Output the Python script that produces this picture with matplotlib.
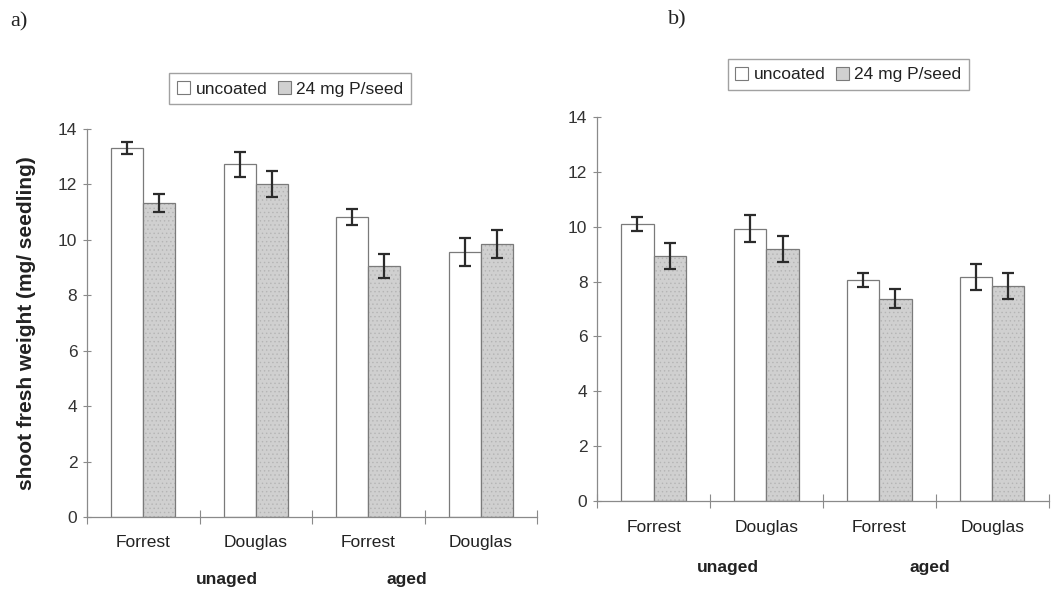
import matplotlib
matplotlib.use('Agg')
import matplotlib.pyplot as plt
from matplotlib.patches import Patch
import numpy as np

# ── Data ──────────────────────────────────────────────────────────────────────
cultivars = ['Forrest', 'Douglas', 'Forrest', 'Douglas']
ages = ['unaged', 'aged']
series = ['uncoated', '24 mg P/seed']

a_uncoated = [13.3, 12.72, 10.82, 9.57]
a_uncoated_err = [0.22, 0.45, 0.29, 0.50]
a_coated = [11.32, 12.0, 9.05, 9.85]
a_coated_err = [0.33, 0.47, 0.43, 0.49]

b_uncoated = [10.1, 9.92, 8.06, 8.17]
b_uncoated_err = [0.27, 0.49, 0.24, 0.46]
b_coated = [8.93, 9.19, 7.38, 7.84]
b_coated_err = [0.46, 0.49, 0.35, 0.47]

# ── Style ─────────────────────────────────────────────────────────────────────
plt.rcParams['font.family'] = ['Liberation Sans', 'DejaVu Sans']
plt.rcParams['hatch.linewidth'] = 0.5
AXIS = '#8a8a8a'
EDGE = '#7a7a7a'
GREY = '#d0d0d0'
DOTS = '#b4b4b4'
ERR = '#2b2b2b'
TXT = '#222222'

fig = plt.figure(figsize=(10.55, 5.92), dpi=100)
fig.patch.set_facecolor('white')


def panel(rect, unc, unc_err, coat, coat_err, tick_y, group_y, group_x,
          leg_anchor, ylabel=None):
    ax = fig.add_axes(rect)
    x = np.arange(len(cultivars))
    w = 0.285
    ax.bar(x - w / 2, unc, w, color='white', edgecolor=EDGE, lw=0.9)
    # dotted grey fill, then a plain outline on top
    ax.bar(x + w / 2, coat, w, color=GREY, edgecolor=DOTS, lw=0,
           hatch='....')
    ax.bar(x + w / 2, coat, w, fill=False, edgecolor=EDGE, lw=0.9)
    ax.errorbar(x - w / 2, unc, yerr=unc_err, fmt='none', ecolor=ERR,
                elinewidth=1.6, capsize=4.5, capthick=1.6)
    ax.errorbar(x + w / 2, coat, yerr=coat_err, fmt='none', ecolor=ERR,
                elinewidth=1.6, capsize=4.5, capthick=1.6)

    ax.set_xlim(-0.5, 3.5)
    ax.set_ylim(0, 14)
    ax.set_yticks(range(0, 15, 2))
    ax.tick_params(axis='y', direction='inout', length=6, width=0.8,
                   color=AXIS, labelsize=12.5, labelcolor='#333333', pad=4)
    ax.set_xticks([])
    ax.set_xticks(np.arange(-0.5, 4, 1.0), minor=True)
    ax.tick_params(axis='x', which='minor', direction='inout', length=10,
                   width=0.8, color=AXIS)
    for sp in ('top', 'right'):
        ax.spines[sp].set_visible(False)
    for sp in ('left', 'bottom'):
        ax.spines[sp].set_color(AXIS)
        ax.spines[sp].set_linewidth(0.9)

    for i, name in enumerate(cultivars):
        ax.text(i, tick_y, name, transform=ax.get_xaxis_transform(),
                ha='center', va='center', fontsize=12.5, color=TXT)
    for gx, name in zip(group_x, ages):
        ax.text(gx, group_y, name, transform=ax.get_xaxis_transform(),
                ha='center', va='center', fontsize=12.5, color=TXT,
                fontweight='bold')

    if ylabel:
        ax.set_ylabel(ylabel, fontsize=15, fontweight='bold', color=TXT)
        ax.yaxis.set_label_coords(-0.113, 0.5)

    handles = [Patch(facecolor='white', edgecolor=EDGE, lw=0.8),
               Patch(facecolor=GREY, edgecolor=EDGE, lw=0.8)]
    leg = fig.legend(handles, series, ncol=2, loc='center',
                     bbox_to_anchor=leg_anchor, fontsize=12.5,
                     handlelength=0.75, handleheight=0.75, handletextpad=0.3,
                     columnspacing=0.6, borderpad=0.45, fancybox=False,
                     frameon=True, edgecolor=AXIS)
    leg.get_frame().set_linewidth(1.0)
    for t in leg.get_texts():
        t.set_color(TXT)
    return ax


ax_a = panel([0.0825, 0.1267, 0.4265, 0.6554],
             a_uncoated, a_uncoated_err, a_coated, a_coated_err,
             tick_y=-0.067, group_y=-0.162, group_x=[0.74, 2.34],
             leg_anchor=(0.275, 0.85),
             ylabel='shoot fresh weight (mg/ seedling)')
ax_b = panel([0.566, 0.1537, 0.428, 0.6486],
             b_uncoated, b_uncoated_err, b_coated, b_coated_err,
             tick_y=-0.068, group_y=-0.174, group_x=[0.66, 2.45],
             leg_anchor=(0.804, 0.874))

fig.text(0.0095, 0.963, 'a)', fontsize=16, family='Liberation Serif',
         ha='left', va='center', color=TXT)
fig.text(0.633, 0.966, 'b)', fontsize=16, family='Liberation Serif',
         ha='left', va='center', color=TXT)

fig.savefig('out.png', dpi=100, facecolor='white')
